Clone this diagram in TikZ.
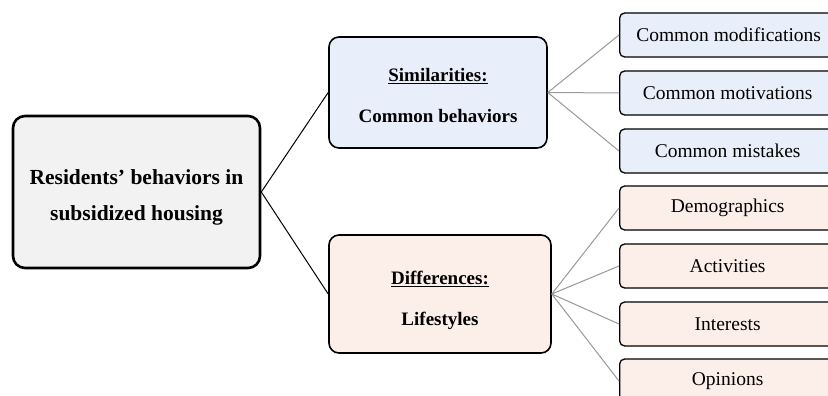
\documentclass[tikz,border=0pt]{standalone}
\usepackage{fontspec}
\setmainfont{Liberation Serif}
\definecolor{rootfill}{HTML}{F2F2F2}
\definecolor{simfill}{HTML}{E9EFFA}
\definecolor{difffill}{HTML}{FCEEE8}
\definecolor{leafline}{HTML}{999999}
\begin{document}
\begin{tikzpicture}[x=1pt,y=-1pt,
  rootbox/.style={draw=black,line width=2.6pt,rounded corners=12pt,fill=rootfill,minimum width=247pt,minimum height=152pt,inner sep=0pt},
  roottext/.style={align=center,inner sep=0pt,font=\fontsize{21.5}{36}\selectfont\bfseries},
  midbox/.style={draw=black,line width=1.6pt,rounded corners=10pt,minimum width=218pt,minimum height=111pt,inner sep=0pt},
  midtext/.style={align=center,inner sep=0pt,font=\fontsize{19}{41}\selectfont\bfseries},
  leafbox/.style={draw=black,line width=1.3pt,rounded corners=5pt,minimum width=216pt,minimum height=44pt,inner sep=0pt,anchor=west,font=\fontsize{19.5}{22}\selectfont},
  rootline/.style={draw=black,line width=1pt},
  leafedge/.style={draw=leafline,line width=1pt}]
\useasboundingbox (0,0) rectangle (828,396);
\clip (0,0) rectangle (828,396);
\fill[white] (0,0) rectangle (828,396);
\node[rootbox] (root) at (136.5,192) {};
\node[roottext] (roottxt) at ([yshift=-5pt]root.center) {Residents’ behaviors in\\subsidized housing};
\node[midbox,fill=simfill] (sim) at (438,92.5) {};
\node[midtext] (simtxt) at ([yshift=-3pt]sim.center) {\underline{Similarities:}\\Common behaviors};
\node[midbox,fill=difffill,minimum width=222pt,minimum height=118pt] (diff) at (440,294) {};
\node[midtext] (difftxt) at ([yshift=-6pt]diff.center) {\underline{Differences:}\\Lifestyles};
\node[leafbox,fill=simfill] (l1) at (619,35) {\hspace*{2pt}Common modifications};
\node[leafbox,fill=simfill] (l2) at (619,93) {Common motivations};
\node[leafbox,fill=simfill] (l3) at (619,151) {Common mistakes};
\node[leafbox,fill=difffill] (l4) at (619,208) {Demographics};
\node[leafbox,fill=difffill] (l5) at (619,266) {Activities};
\node[leafbox,fill=difffill] (l6) at (619,324) {Interests};
\node[leafbox,fill=difffill] (l7) at (619,381) {Opinions};
\draw[rootline] (root.east) -- (sim.west);
\draw[rootline] (root.east) -- (diff.west);
\foreach \n in {l1,l2,l3} \draw[leafedge] (sim.east) -- (\n.west);
\foreach \n in {l4,l5,l6,l7} \draw[leafedge] (diff.east) -- (\n.west);
\end{tikzpicture}
\end{document}
